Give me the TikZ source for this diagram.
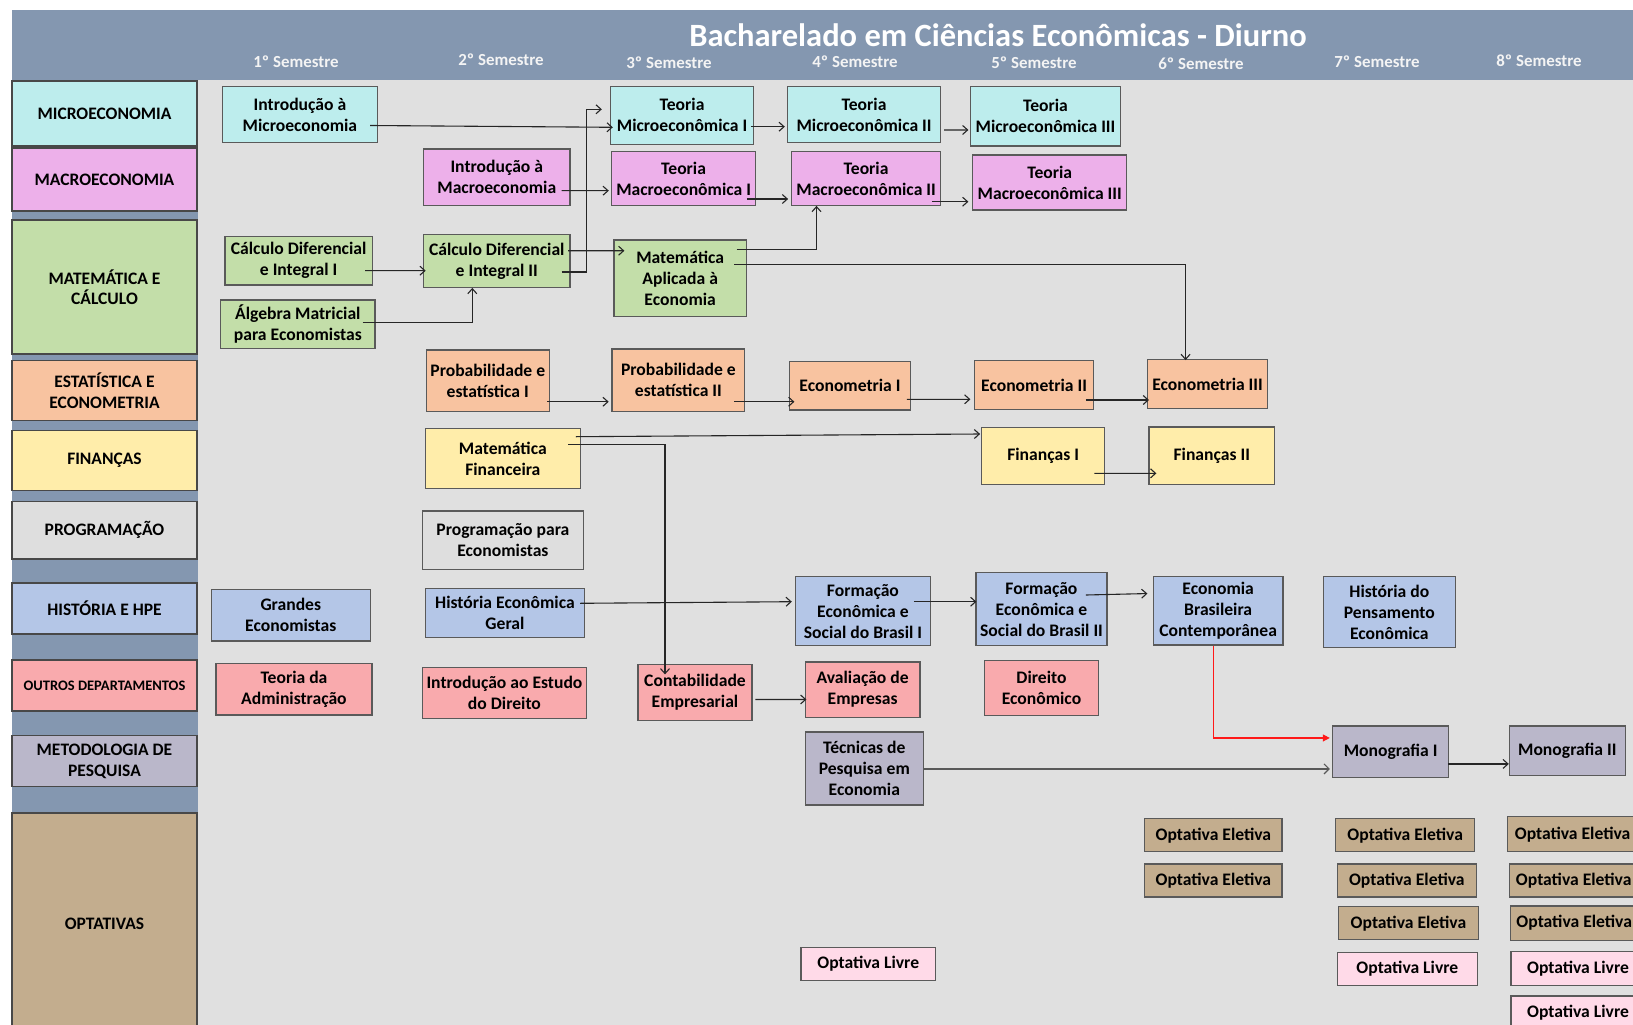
\documentclass[tikz,border=0pt]{standalone}
\usepackage{fontspec}
\setmainfont{Carlito}
\usetikzlibrary{arrows.meta,calc}
\definecolor{hdr}{HTML}{8497B0}
\definecolor{mainbg}{HTML}{E0E0E0}
\definecolor{cmicro}{HTML}{BDEDED}
\definecolor{cmacro}{HTML}{EDB0EA}
\definecolor{cmat}{HTML}{C3DEA9}
\definecolor{cest}{HTML}{F8C3A0}
\definecolor{cfin}{HTML}{FFEDAA}
\definecolor{cprog}{HTML}{DEDEDE}
\definecolor{chist}{HTML}{B4C6E7}
\definecolor{coutros}{HTML}{F9AAAD}
\definecolor{cmet}{HTML}{BAB7CA}
\definecolor{copt}{HTML}{C3AD8E}
\definecolor{clivre}{HTML}{FFDAE8}
\definecolor{bline}{HTML}{5A5A5A}
\definecolor{semc}{HTML}{F4F4F4}
\newcommand{\myboxfont}{\bfseries\fontsize{17.6}{21}\selectfont}
\newcommand{\mycatfont}{\bfseries\fontsize{17.5}{20.5}\selectfont}
\newcommand{\mysmallcat}{\bfseries\fontsize{14.5}{17}\selectfont}
\newcommand{\mysemfont}{\bfseries\fontsize{16.9}{19}\selectfont}
\newcommand{\mytitlefont}{\bfseries\fontsize{32.5}{38}\selectfont}
\tikzset{
  box/.style={draw=bline, line width=1.2pt, align=center, inner sep=1pt, font=\myboxfont, text=black},
  cat/.style={draw=bline!80!black, line width=1.2pt, align=center, inner sep=1pt, font=\mycatfont, minimum width=185, text=black},
  sem/.style={font=\mysemfont, text=semc, inner sep=1pt},
  arr/.style={draw=black!85, line width=1.1pt, -{Straight Barb[length=5pt,width=9pt,line width=1.1pt]}},
  redarr/.style={draw=red!90!white, line width=1.1pt, -{Triangle[length=7pt,width=7pt]}},
  grayarr/.style={draw=black!65, line width=1.8pt, -{Straight Barb[length=5pt,width=10pt,line width=1.1pt]}},
}
% name, colour, x1, y1, x2, y2, text
\newcommand{\crs}[7]{\node[box, fill=#2, minimum width={#5-#3}, minimum height={#6-#4}] (#1) at ({(#3+#5)/2},{(#4+#6)/2}) {#7};}
\begin{document}
\begin{tikzpicture}[x=1pt,y=-1pt]
\clip (0,0) rectangle (1633,1025);
\fill[white] (0,0) rectangle (1633,1025);
\fill[hdr] (12,10) rectangle (1633,80);
\fill[hdr] (12,80) rectangle (198,1025);
\fill[mainbg] (198,80) rectangle (1633,1025);

% title and semesters
\node[font=\mytitlefont, text=white, inner sep=0pt] (title) at (998,35.5) {Bacharelado em Ciências Econômicas - Diurno};
\node[sem] (s1) at (296,61.5) {1º Semestre};
\node[sem] (s2) at (501,60) {2º Semestre};
\node[sem] (s3) at (669,62.3) {3º Semestre};
\node[sem] (s4) at (855,62) {4º Semestre};
\node[sem] (s5) at (1034,63) {5º Semestre};
\node[sem] (s6) at (1201,64) {6º Semestre};
\node[sem] (s7) at (1377,62) {7º Semestre};
\node[sem] (s8) at (1539,60.3) {8º Semestre};

% categories
\node[cat, fill=cmicro, minimum height=65] (kmicro) at (104.5,113.5) {MICROECONOMIA};
\node[cat, fill=cmacro, minimum height=63] (kmacro) at (104.5,179.5) {MACROECONOMIA};
\node[cat, fill=cmat, minimum height=134] (kmat) at (104.5,287) {MATEMÁTICA E\\CÁLCULO};
\node[cat, fill=cest, minimum height=60] (kest) at (104.5,390.7) {ESTATÍSTICA E\\ECONOMETRIA};
\node[cat, fill=cfin, minimum height=60] (kfin) at (104.5,460.7) {FINANÇAS};
\node[cat, fill=cprog, minimum height=57.3] (kprog) at (104.5,530.3) {PROGRAMAÇÃO};
\node[cat, fill=chist, minimum height=51] (khist) at (104.5,608.5) {HISTÓRIA E HPE};
\node[cat, fill=coutros, minimum height=51, font=\mysmallcat] (koutros) at (104.5,685.5) {OUTROS DEPARTAMENTOS};
\node[cat, fill=cmet, minimum height=51] (kmet) at (104.5,761.2) {METODOLOGIA DE\\PESQUISA};
\node[cat, fill=copt, minimum height=226] (kopt) at (104.5,926) {};
\node[font=\mycatfont, text=black] (kopttxt) at (104.5,923.5) {OPTATIVAS};

% courses
\crs{intromicro}{cmicro}{222.3}{86.3}{377.6}{142.7}{Introdução à\\Microeconomia}
\crs{micro1}{cmicro}{610.4}{86.3}{753.7}{144.3}{Teoria\\Microeconômica I}
\crs{micro2}{cmicro}{787.4}{86.3}{940.7}{142.7}{Teoria\\Microeconômica II}
\crs{micro3}{cmicro}{970.6}{86.3}{1120.4}{146}{Teoria\\Microeconômica III}
\crs{intromacro}{cmacro}{423.6}{149}{570}{205.3}{Introdução à\\Macroeconomia}
\crs{macro1}{cmacro}{611.4}{151.7}{755.8}{205.3}{Teoria\\Macroeconômica I}
\crs{macro2}{cmacro}{791.5}{151.7}{940.7}{205.3}{Teoria\\Macroeconômica II}
\crs{macro3}{cmacro}{972.7}{155}{1126.8}{210}{Teoria\\Macroeconômica III}
\crs{calc1}{cmat}{224.9}{236.3}{372.4}{285}{Cálculo Diferencial\\e Integral I}
\crs{calc2}{cmat}{423.6}{234.7}{570}{287.3}{Cálculo Diferencial\\e Integral II}
\crs{mataplic}{cmat}{614}{240}{746.3}{316.7}{Matemática\\Aplicada à\\Economia}
\crs{algebra}{cmat}{220.7}{300}{375}{348.7}{Álgebra Matricial\\para Economistas}
\crs{prob1}{cest}{426.3}{350}{549.2}{411.7}{Probabilidade e\\estatística I}
\crs{prob2}{cest}{612}{349}{744.8}{411.7}{Probabilidade e\\estatística II}
\crs{econ1}{cest}{789.5}{361.7}{910.5}{410}{Econometria I}
\crs{econ2}{cest}{974.3}{360.7}{1093.8}{409.3}{Econometria II}
\crs{econ3}{cest}{1147.5}{359.7}{1267.6}{408.3}{Econometria III}
\crs{matfin}{cfin}{425.2}{428.7}{580.5}{488.7}{Matemática\\Financeira}
\crs{fin1}{cfin}{981.7}{427.7}{1104.5}{484.3}{Finanças I}
\crs{fin2}{cfin}{1149}{427}{1274.5}{484.3}{Finanças II}
\crs{prog}{cprog}{422.6}{511}{583.2}{569.3}{Programação para\\Economistas}
\crs{grandes}{chist}{211.3}{589.3}{370.3}{641}{Grandes\\Economistas}
\crs{histgeral}{chist}{425.2}{588.3}{584.7}{637.3}{História Econômica\\Geral}
\crs{form1}{chist}{795.7}{576.7}{930.2}{645.7}{Formação\\Econômica e\\Social do Brasil I}
\crs{form2}{chist}{975.9}{572.7}{1107}{645.7}{Formação\\Econômica e\\Social do Brasil II}
\crs{ecobras}{chist}{1153.3}{576.7}{1283}{645}{Economia\\Brasileira\\Contemporânea}
\crs{hpe}{chist}{1323.4}{576.7}{1455.2}{647.3}{História do\\Pensamento\\Econômica}
\crs{teoadm}{coutros}{216}{663.7}{371.9}{715}{Teoria da\\Administração}
\crs{introdir}{coutros}{422.6}{667.3}{586.3}{718.3}{Introdução ao Estudo\\do Direito}
\crs{contab}{coutros}{638}{664.3}{752}{720.7}{Contabilidade\\Empresarial}
\crs{avali}{coutros}{805.3}{662}{920}{717.3}{Avaliação de\\Empresas}
\crs{direco}{coutros}{984.4}{660.7}{1098.6}{715.3}{Direito\\Econômico}
\crs{tecnicas}{cmet}{805.3}{732}{923.3}{805}{Técnicas de\\Pesquisa em\\Economia}
\crs{mono1}{cmet}{1332.4}{726}{1448.8}{777.7}{Monografia I}
\crs{mono2}{cmet}{1509.4}{726}{1625.2}{775.3}{Monografia II}
\crs{ele6a}{copt}{1144.8}{818.7}{1282}{851.7}{Optativa Eletiva}
\crs{ele6b}{copt}{1144.8}{864}{1282}{897}{Optativa Eletiva}
\crs{ele7a}{copt}{1335.6}{818.7}{1474.8}{851.7}{Optativa Eletiva}
\crs{ele7b}{copt}{1337.2}{864}{1476.4}{897}{Optativa Eletiva}
\crs{ele7c}{copt}{1338.3}{906.7}{1478.6}{939.7}{Optativa Eletiva}
\crs{liv7}{clivre}{1337.2}{952.3}{1477.5}{985.3}{Optativa Livre}
\crs{ele8a}{copt}{1507.2}{816.7}{1638}{851.7}{Optativa Eletiva}
\crs{ele8b}{copt}{1509.4}{864}{1638}{897}{Optativa Eletiva}
\crs{ele8c}{copt}{1510.4}{906}{1638}{940.3}{Optativa Eletiva}
\crs{liv8a}{clivre}{1511}{951.3}{1645}{985.3}{Optativa Livre}
\crs{liv8b}{clivre}{1511}{996}{1645}{1030}{Optativa Livre}
\crs{liv4}{clivre}{801}{947.3}{935.5}{980.7}{Optativa Livre}

% connectors
\draw[arr] ($(intromicro.east)+(-8,11)$) -- ($(micro1.west)+(3,12)$);
\draw[arr] ($(calc2.east)+(-9,11)$) -- ++(25,0) |- ($(micro1.west)+(-8,-6)$);
\draw[arr] ($(intromacro.east)+(-9,13.5)$) -- ($(macro1.west)+(-2,12.2)$);
\draw[arr] ($(macro1.east)+(-9.5,20.5)$) -- ($(macro2.west)+(-2.8,20.5)$);
\draw[arr] ($(micro1.east)+(-3,11.4)$) -- ($(micro2.west)+(-2,12.2)$);
\draw[arr] ($(calc1.east)+(-8,10)$) -- ($(calc2.west)+(2.7,9.7)$);
\draw[arr] ($(algebra.east)+(-13,-1.6)$) -| ($(calc2.south)+(-24.5,0)$);
\draw[arr] ($(calc2.east)+(-2.5,-10.3)$) -- ($(mataplic.west)+(11,-27.6)$);
\draw[arr] ($(mataplic.east)+(-10.3,-29)$) -| ($(macro2.south)+(-49.6,0)$);
\draw[arr] ($(mataplic.east)+(-12.5,-13.8)$) -| ($(econ3.north)+(-22,1)$);
\draw[arr] ($(micro2.east)+(2.8,15.5)$) -- ($(micro3.west)+(-1.6,13.8)$);
\draw[arr] ($(macro2.east)+(-9.5,23.2)$) -- ($(macro3.west)+(-3.7,19.2)$);
\draw[arr] ($(prob1.east)+(-2.7,20.9)$) -- ($(prob2.west)+(-2.7,21.4)$);
\draw[arr] ($(prob2.east)+(-11,21.4)$) -- ($(econ1.west)+(5.5,15.9)$);
\draw[arr] ($(matfin.east)+(-5.2,-22)$) -- ($(fin1.west)+(-1,-22)$);
\draw[arr] ($(matfin.east)+(-13,-14.4)$) -| ($(contab.north)+(-30,10.7)$);
\draw[arr] ($(histgeral.east)+(-5.2,-9.5)$) -- ($(form1.west)+(-3.3,-9.5)$);
\draw[arr] ($(contab.east)+(2.7,7)$) -- ($(avali.west)+(1.7,9.8)$);
\draw[arr] ($(econ1.east)+(-4.2,13.5)$) -- ($(econ2.west)+(-3.3,14.3)$);
\draw[arr] ($(econ2.east)+(-8.5,15)$) -- ($(econ3.west)+(2.1,16)$);
\draw[arr] ($(fin1.east)+(-10.7,17.3)$) -- ($(fin2.west)+(8,17.7)$);
\draw[arr] ($(form1.east)+(-17,-9.5)$) -- ($(form2.west)+(1.1,-7.5)$);
\draw[arr] ($(form2.east)+(-21.7,-14.2)$) -- ($(ecobras.west)+(-5.3,-17.3)$);
\draw[redarr] ($(ecobras.south)+(-4.7,0)$) |- ($(mono1.west)+(-2,-13.9)$);
\draw[grayarr] ($(tecnicas.east)+(0,0.5)$) -- ($(mono1.west)+(-2,17.1)$);
\draw[arr] ($(mono1.east)+(-1.6,12.1)$) -- ($(mono2.west)+(0,13.3)$);
\end{tikzpicture}
\end{document}
